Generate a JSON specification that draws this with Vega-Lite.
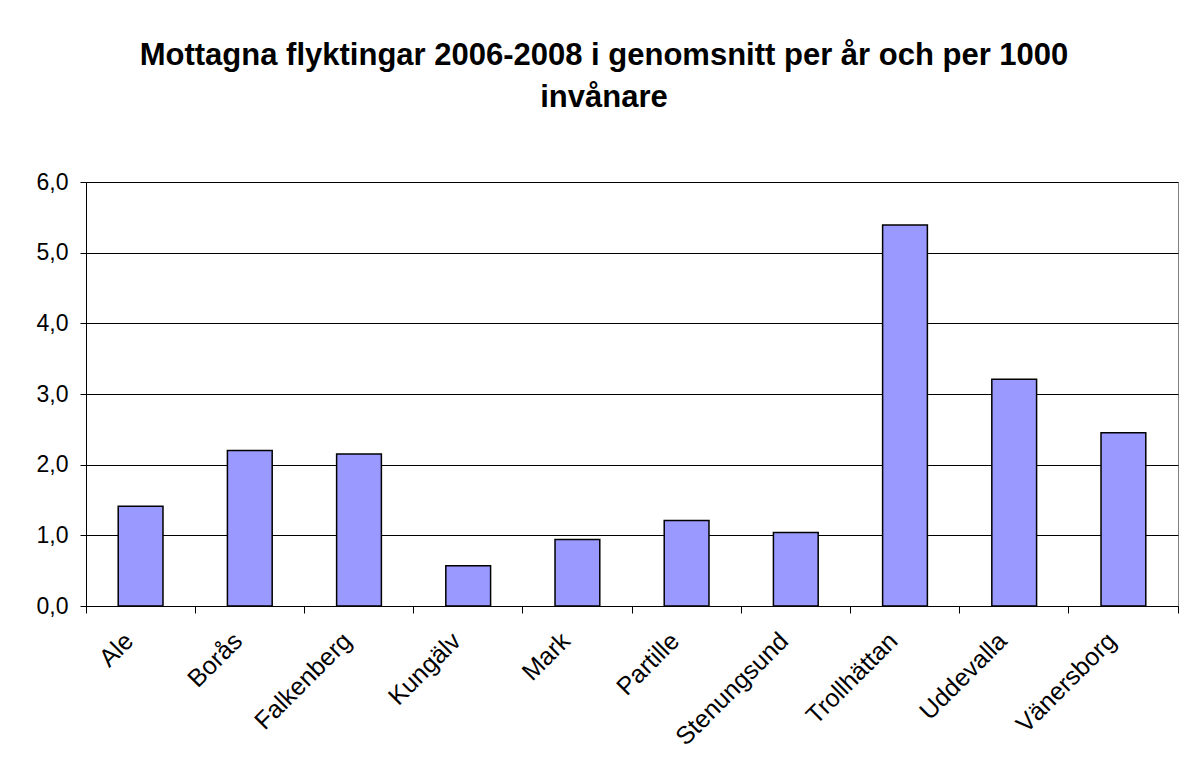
{
  "$schema": "https://vega.github.io/schema/vega-lite/v6.json",
  "autosize": {"type": "none"},
  "width": 1092,
  "height": 424,
  "padding": {"left": 86, "top": 182, "right": 6, "bottom": 168},
  "background": "white",
  "title": {
    "text": ["Mottagna flyktingar 2006-2008 i genomsnitt per år och per 1000", "invånare"],
    "font": "Liberation Sans",
    "fontSize": 31,
    "fontWeight": "bold",
    "color": "black",
    "anchor": "middle",
    "dx": -28,
    "lineHeight": 42,
    "offset": 57
  },
  "config": {
    "view": {"stroke": "#808080", "strokeWidth": 1},
    "axis": {"labelFont": "Liberation Sans", "labelColor": "black"}
  },
  "data": {
    "values": [
      {"kommun": "Ale", "varde": 1.41},
      {"kommun": "Borås", "varde": 2.2},
      {"kommun": "Falkenberg", "varde": 2.15},
      {"kommun": "Kungälv", "varde": 0.57},
      {"kommun": "Mark", "varde": 0.94},
      {"kommun": "Partille", "varde": 1.21},
      {"kommun": "Stenungsund", "varde": 1.04},
      {"kommun": "Trollhättan", "varde": 5.39},
      {"kommun": "Uddevalla", "varde": 3.21},
      {"kommun": "Vänersborg", "varde": 2.45}
    ]
  },
  "mark": {"type": "bar", "fill": "#9999FF", "stroke": "black", "strokeWidth": 1.5, "width": {"band": 0.41}},
  "encoding": {
    "x": {
      "field": "kommun",
      "type": "nominal",
      "sort": null,
      "scale": {"paddingInner": 0, "paddingOuter": 0},
      "axis": {
        "title": null,
        "bandPosition": 1,
        "tickExtra": true,
        "labelOffset": -20,
        "labelAngle": -45,
        "labelFontSize": 25,
        "labelPadding": 15,
        "tickSize": 7,
        "tickColor": "black",
        "domainColor": "black",
        "grid": false
      }
    },
    "y": {
      "field": "varde",
      "type": "quantitative",
      "scale": {"domain": [0, 6], "nice": false},
      "axis": {
        "title": null,
        "values": [0, 1, 2, 3, 4, 5, 6],
        "labelExpr": "replace(format(datum.value, '.1f'), '.', ',')",
        "labelFontSize": 23,
        "labelPadding": 12,
        "tickSize": 6,
        "tickColor": "black",
        "domainColor": "black",
        "gridColor": "black",
        "gridOpacity": 1,
        "gridWidth": 1
      }
    }
  }
}
